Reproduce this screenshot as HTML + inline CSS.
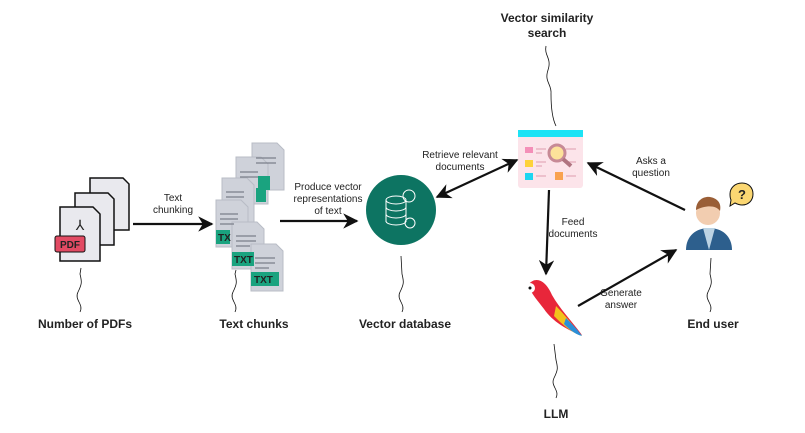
<!DOCTYPE html>
<html><head><style>body{margin:0;background:#fff}svg{display:block}text{font-family:"Liberation Sans",Arial,sans-serif;fill:#222}</style></head><body>
<svg width="805" height="433" viewBox="0 0 805 433" xmlns="http://www.w3.org/2000/svg">
<defs><marker id="a" viewBox="0 0 10 10" refX="9" refY="5" markerWidth="7" markerHeight="7" orient="auto-start-reverse"><path d="M0,0L10,5L0,10L3,5z" fill="#111"/></marker></defs>
<!-- PDFs -->
<g stroke="#111" stroke-width="1.5" fill="#e9e9ee">
<path d="M90,178h33l6,6v46h-39z"/><path d="M75,193h33l6,6v46h-39z"/><path d="M60,207h33l7,7v47h-40z"/></g>
<rect x="55" y="236" width="30" height="16" rx="2" fill="#e24a63" stroke="#111"/>
<text x="70" y="248" font-size="10" font-weight="bold" text-anchor="middle" fill="#111">PDF</text>
<text x="80" y="230" font-size="14" text-anchor="middle">⅄</text>
<!-- text chunks -->
<g fill="#cfd2da" stroke="#b8bcc6">
<path d="M252,143h25l7,7v40h-32z"/><path d="M236,157h25l7,7v40h-32z"/><path d="M222,178h25l7,7v40h-32z"/><path d="M216,200h25l7,7v40h-32z"/><path d="M232,222h25l7,7v40h-32z"/><path d="M251,244h25l7,7v40h-32z"/></g>
<g stroke="#7b7f8a" stroke-width="1.2"><path d="M256,158h20M256,163h20M240,172h18M240,177h18M226,192h18M226,197h18M220,214h18M220,219h18M220,224h14M236,236h20M236,241h20M236,246h14M255,258h20M255,263h20M255,268h14"/></g>
<g fill="#1aa37f"><rect x="258" y="176" width="12" height="14"/><rect x="256" y="188" width="10" height="14"/><rect x="216" y="230" width="14" height="14"/><rect x="232" y="252" width="22" height="14"/><rect x="251" y="272" width="28" height="14"/></g>
<g font-size="10" font-weight="bold" fill="#fff"><text x="234" y="263" fill="#fff">TXT</text><text x="254" y="283" fill="#fff">TXT</text><text x="218" y="241" fill="#fff">TX</text></g>
<!-- db -->
<circle cx="401" cy="210" r="35" fill="#0d7462"/>
<g stroke="#fff" fill="none" stroke-width="1"><ellipse cx="396" cy="200" rx="10" ry="4"/><path d="M386,200v22M406,200v22M386,207a10,4 0 0 0 20,0M386,214a10,4 0 0 0 20,0M386,221a10,4 0 0 0 20,0"/><circle cx="409" cy="196" r="6"/><circle cx="410" cy="223" r="5"/></g>
<!-- search window -->
<rect x="518" y="130" width="65" height="58" rx="3" fill="#fce4ea"/><rect x="518" y="130" width="65" height="7" fill="#1de3f5"/>
<g stroke="#e8b4c2" stroke-width="1.5"><path d="M536,149h10M536,153h6M536,162h10M536,166h6M536,176h10M566,176h10M566,149h10M566,162h10"/></g>
<rect x="525" y="147" width="8" height="6" fill="#f48fb8"/><rect x="525" y="160" width="8" height="7" fill="#fdd23a"/><rect x="525" y="173" width="8" height="7" fill="#1dd5f0"/><rect x="555" y="172" width="8" height="8" fill="#f9a24f"/>
<circle cx="557" cy="153" r="8" fill="#fde29a" stroke="#c78a96" stroke-width="3"/><path d="M563,159l8,7" stroke="#b07480" stroke-width="4"/>
<!-- parrot -->
<path d="M528,285c8,-10 18,-4 24,10c8,14 18,24 30,40c-14,-4 -30,-14 -38,-26c-6,-8 -12,-14 -16,-24z" fill="#e8263a"/>
<path d="M556,306c8,8 16,18 26,30c-12,-4 -20,-12 -28,-20z" fill="#f2c21c"/><path d="M566,318c6,6 12,12 16,18c-8,-2 -14,-8 -18,-12z" fill="#2b8fd8"/>
<circle cx="530" cy="288" r="5" fill="#fff"/><circle cx="530" cy="288" r="1.5" fill="#111"/>
<!-- user -->
<path d="M686,250c0,-14 10,-22 23,-22s23,8 23,22z" fill="#2d5f8d"/>
<path d="M703,228l6,22l6,-22z" fill="#bcd3e3"/>
<circle cx="708" cy="213" r="12" fill="#f2cdb0"/><path d="M696,210c0,-10 8,-14 14,-13s12,5 10,14c-4,-6 -14,-6 -24,-1z" fill="#9a5e36"/>
<path d="M742,183c7,0 11,5 11,11s-4,11 -11,11c-3,0 -5,-1 -7,-2l-5,3l1,-6c-1,-2 -1,-4 -1,-6c0,-6 5,-11 12,-11z" fill="#fbd772" stroke="#111"/>
<text x="742" y="199" font-size="13" font-weight="bold" text-anchor="middle">?</text>
<!-- arrows -->
<g stroke="#111" stroke-width="2.2" fill="none" marker-end="url(#a)">
<path d="M133,224H212"/><path d="M280,221H357"/><path d="M437,197L517,160" marker-start="url(#a)"/><path d="M685,210L588,163"/><path d="M549,190L546,274"/><path d="M578,306L676,250"/></g>
<!-- squiggles -->
<g stroke="#111" stroke-width="0.8" fill="none">
<path d="M80,312c4,-8 -6,-12 -2,-20s4,-10 2,-18l1,-6"/><path d="M235,312c4,-8 -6,-12 -2,-20s4,-10 2,-18l1,-4"/><path d="M402,312c4,-8 -6,-12 -2,-20s4,-10 2,-18l-1,-18"/><path d="M556,398c4,-8 -6,-12 -2,-20s4,-10 2,-18l-2,-16"/><path d="M710,312c4,-8 -6,-12 -2,-20s4,-10 2,-18l1,-16"/><path d="M546,46c-2,10 6,12 2,24s4,14 3,24c0,14 2,26 5,32"/></g>
<!-- labels -->
<g font-size="10" text-anchor="middle">
<text x="173" y="201">Text</text><text x="173" y="213">chunking</text>
<text x="328" y="190">Produce vector</text><text x="328" y="202">representations</text><text x="328" y="214">of text</text>
<text x="460" y="158">Retrieve relevant</text><text x="460" y="170">documents</text>
<text x="651" y="164">Asks a</text><text x="651" y="176">question</text>
<text x="573" y="225">Feed</text><text x="573" y="237">documents</text>
<text x="621" y="296">Generate</text><text x="621" y="308">answer</text></g>
<g font-size="12" font-weight="bold" text-anchor="middle">
<text x="85" y="328">Number of PDFs</text><text x="254" y="328">Text chunks</text><text x="405" y="328">Vector database</text><text x="556" y="418">LLM</text><text x="713" y="328">End user</text><text x="547" y="22">Vector similarity</text><text x="547" y="37">search</text></g>
</svg></body></html>
